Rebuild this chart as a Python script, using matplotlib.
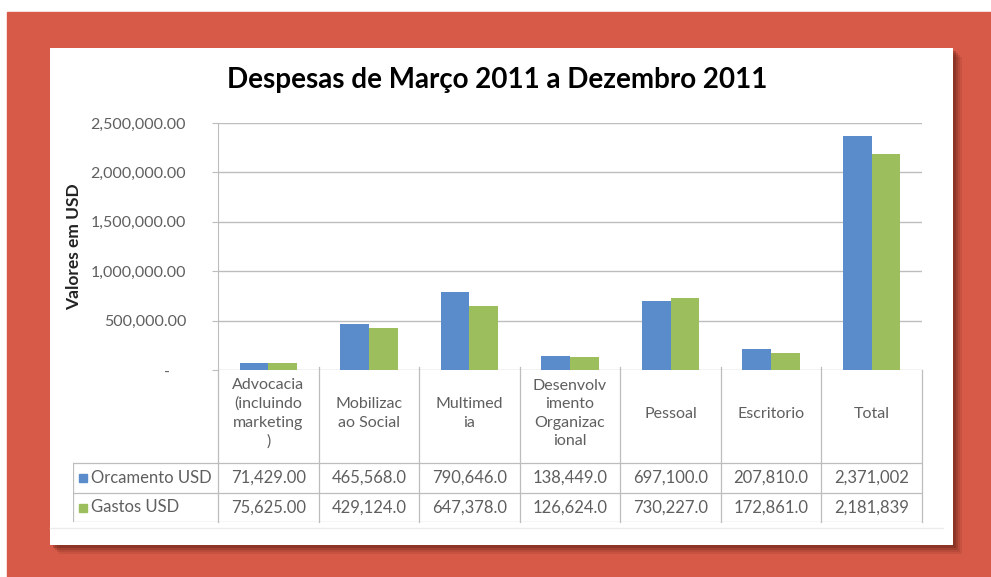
import matplotlib
matplotlib.use("Agg")
import matplotlib.pyplot as plt
import numpy as np
from matplotlib.patches import Rectangle
from matplotlib.ticker import FuncFormatter

plt.rcParams["font.family"] = ["Lato", "DejaVu Sans"]

# --- data ---
categories = ["Advocacia\n(incluindo\nmarketing\n)", "Mobilizac\nao Social",
              "Multimed\nia", "Desenvolv\nimento\nOrganizac\nional",
              "Pessoal", "Escritorio", "Total"]
series_names = ["Orcamento USD", "Gastos USD"]
orcamento = [71429, 465568, 790646, 138449, 697100, 207810, 2371002]
gastos = [75625, 429124, 647378, 126624, 730227, 172861, 2181839]
title = "Despesas de Março 2011 a Dezembro 2011"
ylabel = "Valores em USD"

BLUE = "#5A8BCB"
GREEN = "#9DBE5C"
RED = "#D65A47"
GRID = "#BDBDBD"
TXT = "#5f5f5f"

W, H = 991, 577
fig = plt.figure(figsize=(W / 100, H / 100), dpi=100)
fig.patch.set_facecolor("white")


def box(x0, y0, x1, y1):
    # pixel box (top-left origin) -> figure fractions
    return [x0 / W, 1 - y1 / H, (x1 - x0) / W, (y1 - y0) / H]


# background, card shadow and card
bg = fig.add_axes([0, 0, 1, 1], zorder=-10)
bg.set_xlim(0, W)
bg.set_ylim(H, 0)
bg.set_axis_off()
bg.add_patch(Rectangle((7, 12), W, H, color=RED))
for k, a in [(9, 0.10), (7, 0.15), (5, 0.22), (3, 0.30)]:
    bg.add_patch(Rectangle((50 + k, 48 + k), 903, 497, color="#5a1d12", alpha=a, lw=0))
bg.add_patch(Rectangle((50, 48), 903, 497, color="white", lw=0))
bg.plot([50, 943], [528, 528], color="#ececec", lw=1)
bg.text(497, 80, title, ha="center", va="center", fontsize=20,
        fontweight="bold", color="black")

# --- bars ---
ax = fig.add_axes(box(218, 123, 922, 370))
n = len(categories)
x = np.arange(n) + 0.5
bw = 1 / 3.5
ax.bar(x - bw / 2, orcamento, bw, color=BLUE, zorder=3)
ax.bar(x + bw / 2, gastos, bw, color=GREEN, zorder=3)
ax.set_xlim(0, n)
ax.set_ylim(0, 2500000)
ax.set_yticks(np.arange(0, 2500001, 500000))
ax.yaxis.set_major_formatter(FuncFormatter(
    lambda v, p: "-    " if v == 0 else f"{v:,.2f}"))
ax.tick_params(axis="y", labelsize=11.5, labelcolor=TXT, color=GRID,
               length=4, pad=19)
ax.set_xticks([])
ax.grid(axis="y", color=GRID, lw=1, zorder=0)
for s in ["top", "right", "bottom"]:
    ax.spines[s].set_visible(False)
ax.spines["left"].set_color(GRID)
ax.set_ylabel(ylabel, fontsize=12.5, fontweight="bold", color="#222222")
ax.yaxis.set_label_coords(-136 / 704, 0.5)

# --- data table ---
row_h = [93, 30, 29]
tb = fig.add_axes(box(73, 370, 922, 370 + sum(row_h)))
lw_col = 145 / (704 / n)
tb.set_xlim(-lw_col, n)
tb.set_ylim(sum(row_h), 0)
tb.set_axis_off()
y1 = row_h[0]
y2 = y1 + row_h[1]
y3 = y2 + row_h[2]
for i in range(n + 1):
    tb.plot([i, i], [-3 if 0 < i < n else 0, y3], color=GRID, lw=0.9,
            clip_on=False)
tb.plot([-lw_col, -lw_col], [y1, y3], color=GRID, lw=0.9)
for yy in (y1, y2, y3):
    tb.plot([-lw_col, n], [yy, yy], color=GRID, lw=0.9)

for i, c in enumerate(categories):
    tb.text(i + 0.5, y1 / 2 - 3, c, ha="center", va="center", fontsize=11.5,
            color=TXT, linespacing=1.42)

for vals, name, col, (ya, yb) in zip([orcamento, gastos], series_names,
                                     [BLUE, GREEN], [(y1, y2), (y2, y3)]):
    yc = (ya + yb) / 2
    tb.plot([-lw_col + 0.1], [yc], marker="s", ms=6, color=col, lw=0)
    tb.text(-lw_col + 0.18, yc, name, ha="left", va="center", fontsize=12,
            color=TXT)
    for i, v in enumerate(vals):
        tb.text(i + 0.5, yc, f"{v:,.2f}"[:9], ha="center", va="center",
                fontsize=12, color=TXT)

fig.savefig("out.png", dpi=100, facecolor="white")
